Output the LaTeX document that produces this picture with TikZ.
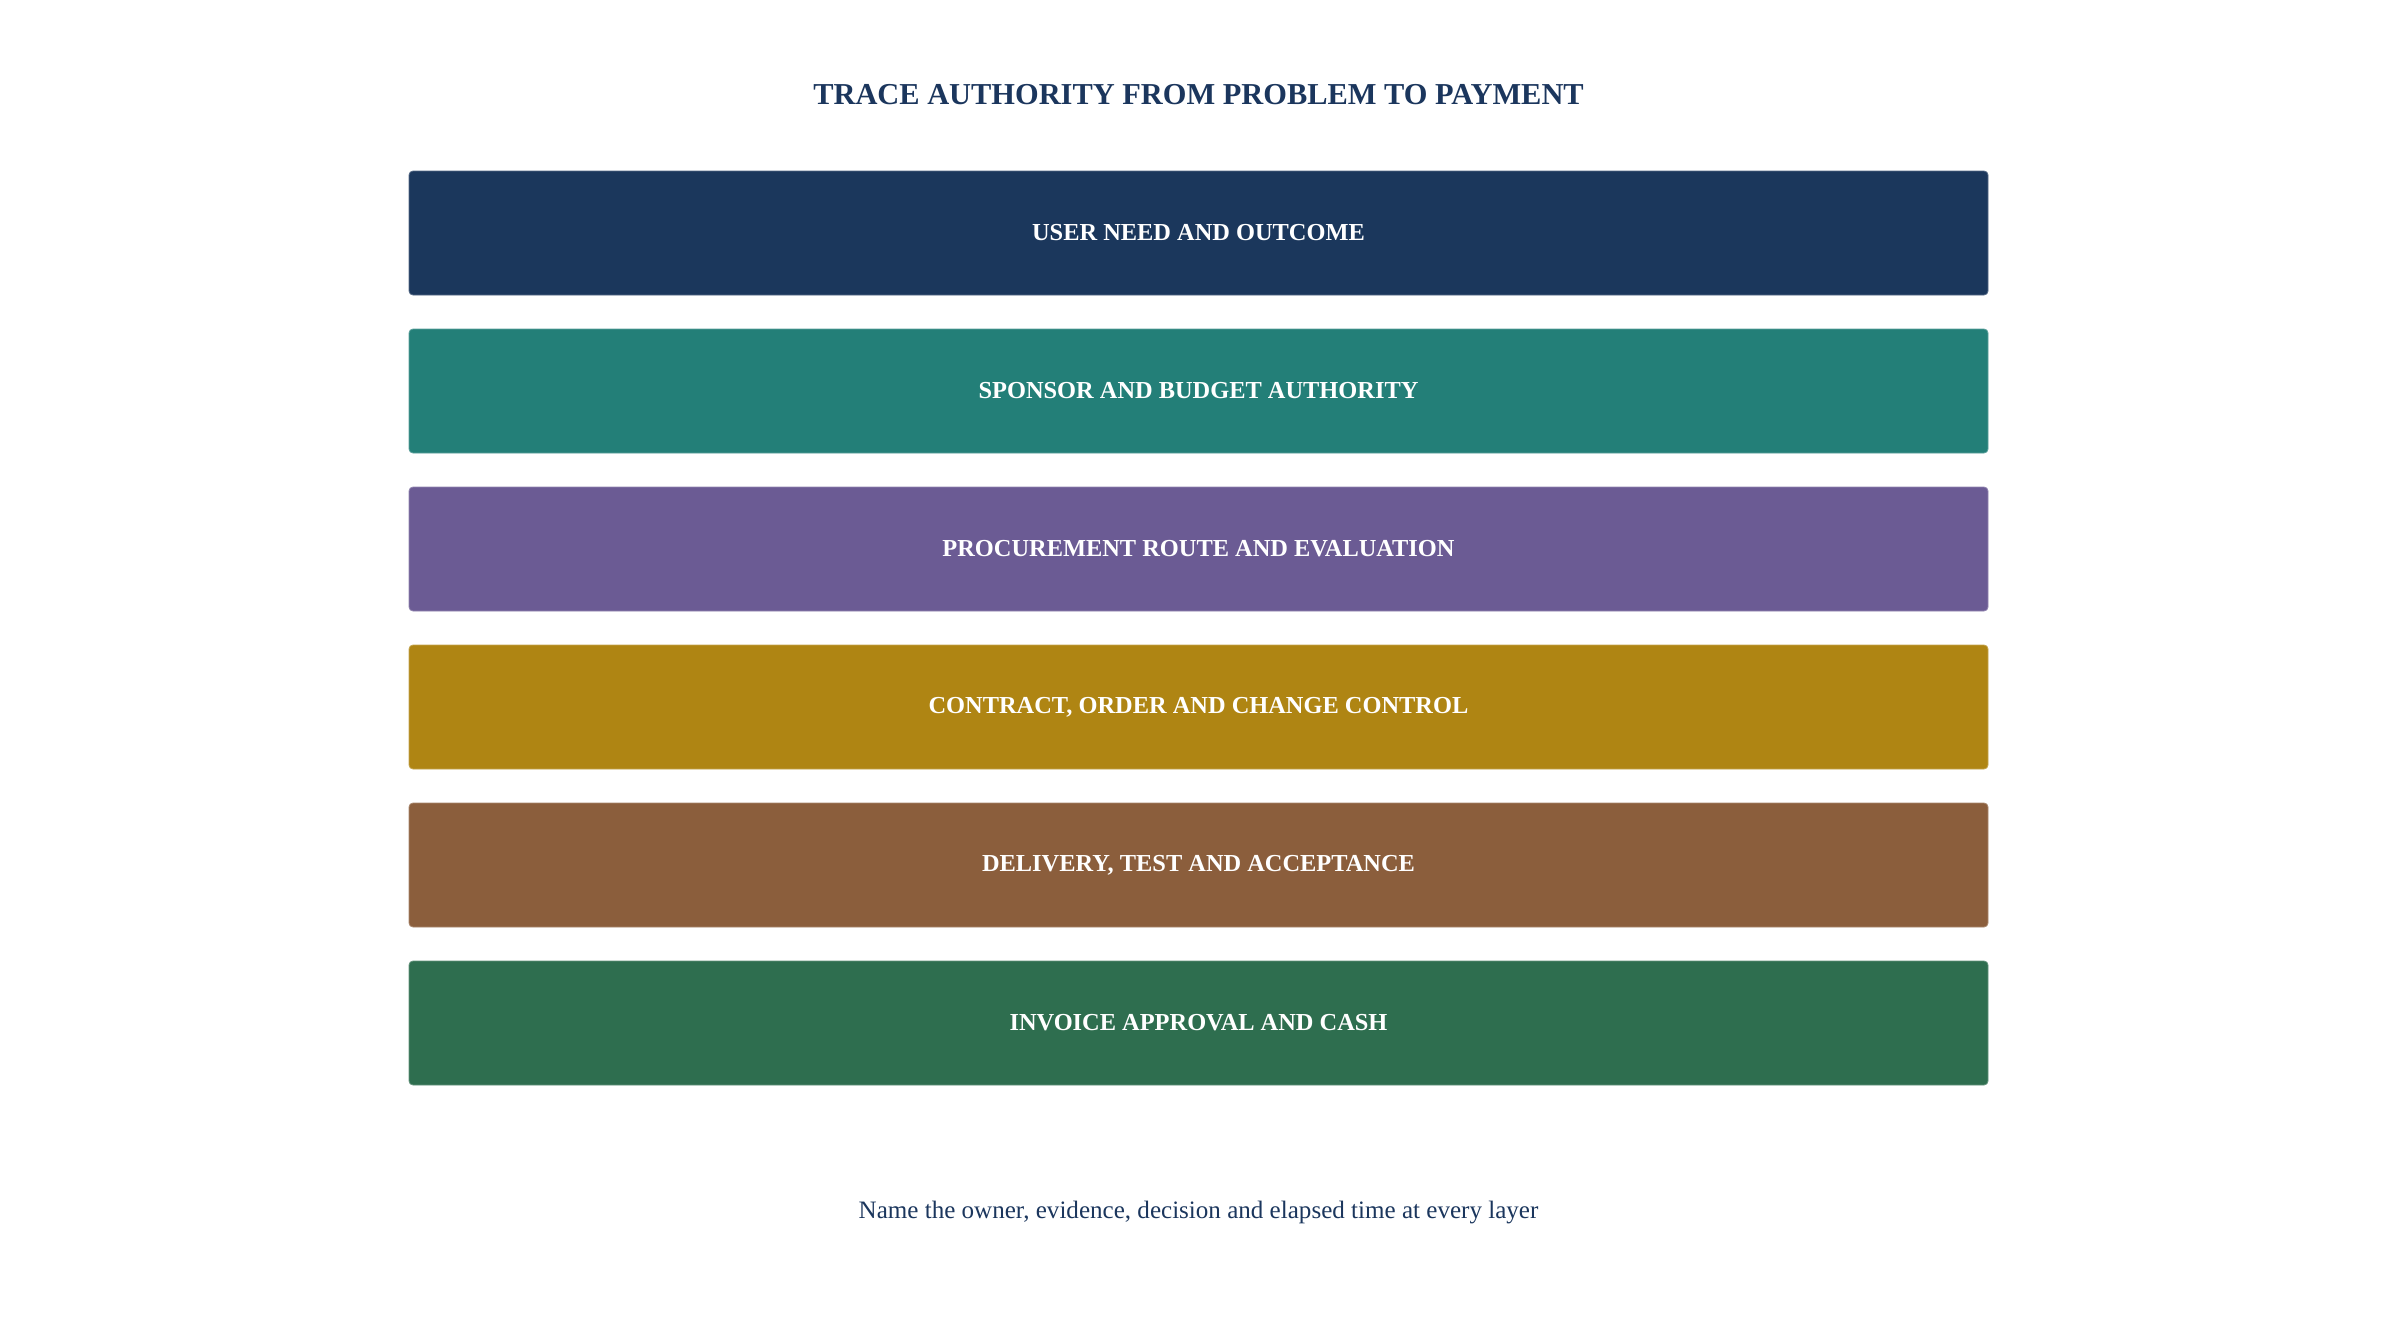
\documentclass[tikz,border=0pt]{standalone}
\usepackage{fontspec}
\setmainfont{Liberation Serif}
\definecolor{navy}{HTML}{1B365D}
\definecolor{cA}{HTML}{1B375C}
\definecolor{cB}{HTML}{237F78}
\definecolor{cC}{HTML}{6B5B94}
\definecolor{cD}{HTML}{AF8513}
\definecolor{cE}{HTML}{8B5E3C}
\definecolor{cF}{HTML}{2E6E4F}
\tikzset{
  layer/.style={fill=#1, draw=#1!75!white, line width=0.6pt, rounded corners=3pt,
    minimum width=1579*0.75pt, minimum height=124*0.75pt, inner sep=0pt,
    text=white, font=\fontsize{18.3}{21}\selectfont\bfseries},
  title/.style={text=navy, font=\fontsize{22.8}{27}\selectfont\bfseries},
  foot/.style={text=navy, font=\fontsize{18.8}{23}\selectfont}
}
\begin{document}
\begin{tikzpicture}[x=0.75pt,y=-0.75pt]
\useasboundingbox (0,0) rectangle (2397,1342);
\node[title] (t) at (1198.5,95) {TRACE AUTHORITY FROM PROBLEM TO PAYMENT};
\node[layer=cA] (l1) at (1198.5,233) {USER NEED AND OUTCOME};
\node[layer=cB] (l2) at (1198.5,391) {SPONSOR AND BUDGET AUTHORITY};
\node[layer=cC] (l3) at (1198.5,549) {PROCUREMENT ROUTE AND EVALUATION};
\node[layer=cD] (l4) at (1198.5,707) {CONTRACT, ORDER AND CHANGE CONTROL};
\node[layer=cE] (l5) at (1198.5,865) {DELIVERY, TEST AND ACCEPTANCE};
\node[layer=cF] (l6) at (1198.5,1023) {INVOICE APPROVAL AND CASH};
\node[foot] (f) at (1198.5,1212) {Name the owner, evidence, decision and elapsed time at every layer};
\end{tikzpicture}
\end{document}
